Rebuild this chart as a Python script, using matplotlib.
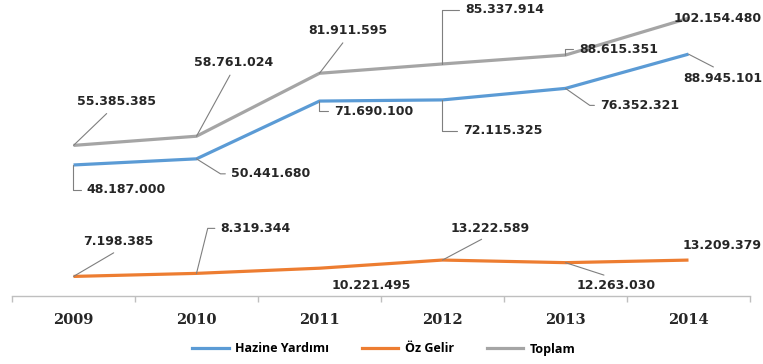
import matplotlib
matplotlib.use("Agg")
import matplotlib.pyplot as plt
from matplotlib.lines import Line2D

years = ["2009", "2010", "2011", "2012", "2013", "2014"]
hazine = [48187000, 50441680, 71690100, 72115325, 76352321, 88945101]
oz_gelir = [7198385, 8319344, 10221495, 13222589, 12263030, 13209379]
toplam = [55385385, 58761024, 81911595, 85337914, 88615351, 102154480]
series_names = ["Hazine Yardımı", "Öz Gelir", "Toplam"]

colors = ["#5b9bd5", "#ed7d31", "#a5a5a5"]
leader_color = "#7f7f7f"


def fmt(v):
    return f"{v:,}".replace(",", ".")


W, H = 763, 364
fig = plt.figure(figsize=(W / 100, H / 100), dpi=100)
ax = fig.add_axes([12 / W, 1 - 296 / H, (750 - 12) / W, 296 / H])

x = list(range(len(years)))
all_series = [hazine, oz_gelir, toplam]
for s, c, n in zip(all_series, colors, series_names):
    ax.plot(x, s, color=c, lw=2.3, solid_capstyle="butt", solid_joinstyle="round", label=n)

ax.set_xlim(-0.5, len(years) - 0.5)
ax.set_ylim(0, 295 / 2.71 * 1e6)

for sp in ["top", "right", "left"]:
    ax.spines[sp].set_visible(False)
ax.spines["bottom"].set_color("#bfbfbf")
ax.spines["bottom"].set_linewidth(1.0)
ax.set_yticks([])
ax.set_xticks(x)
ax.set_xticklabels(years, fontfamily="DejaVu Serif", fontweight="bold", fontsize=10.5, color="#262626")
ax.tick_params(axis="x", which="major", length=0, pad=12)
ax.set_xticks([i - 0.5 for i in range(len(years) + 1)], minor=True)
ax.tick_params(axis="x", which="minor", length=4.5, color="#bfbfbf", width=1.0)

# label layout: (offset px, kind, param)
# kinds: 'none', 'line' (relpos), 'elbow' (angleB for corner)
layout = {
    2: [  # toplam
        ((43, 44), "line", (0.45, 0.0)),
        ((37, 74), "line", (0.5, 0.0)),
        ((28, 43), "line", (0.5, 0.0)),
        ((62, 54), "elbow", 90),
        ((53, 6), "elbow", 90),
        ((29, 0), "none", None),
    ],
    0: [  # hazine
        ((53, -25), "elbow", 90),
        ((74, -15), "elbow", -32),
        ((54, -10), "elbow", 90),
        ((60, -31), "elbow", 90),
        ((74, -17), "elbow", -35),
        ((34, -24), "line", (0.5, 1.0)),
    ],
    1: [  # oz gelir
        ((45, 35), "line", (0.55, 0.0)),
        ((59, 45), "elbow", 76),
        ((52, -17), "none", None),
        ((48, 32), "line", (0.5, 0.0)),
        ((51, -23), "line", (0.5, 1.0)),
        ((34, 15), "none", None),
    ],
}

for si, s in enumerate(all_series):
    for i, v in enumerate(s):
        off, kind, p = layout[si][i]
        kw = dict(xy=(i, v), xytext=off, textcoords="offset pixels",
                  ha="center", va="center", fontsize=9, fontweight="bold",
                  fontfamily="DejaVu Sans", color="#262626", annotation_clip=False)
        if kind == "line":
            kw["arrowprops"] = dict(arrowstyle="-", color=leader_color, lw=0.8,
                                    shrinkA=3, shrinkB=0, relpos=p)
        elif kind == "elbow":
            kw["arrowprops"] = dict(arrowstyle="-", color=leader_color, lw=0.8,
                                    shrinkA=2, shrinkB=0, relpos=(0.0, 0.5),
                                    connectionstyle=f"angle,angleA=180,angleB={p},rad=0")
        ax.annotate(fmt(v), **kw)

handles = [Line2D([], [], color=c, lw=2.3) for c in colors]
fig.legend(handles, series_names, loc="center", bbox_to_anchor=(384 / W, 1 - 349 / H),
           ncol=3, frameon=False, handlelength=2.9, handletextpad=0.55, columnspacing=2.6,
           prop=dict(family="Open Sans", weight="bold", size=9))

fig.savefig("out.png", dpi=100)
